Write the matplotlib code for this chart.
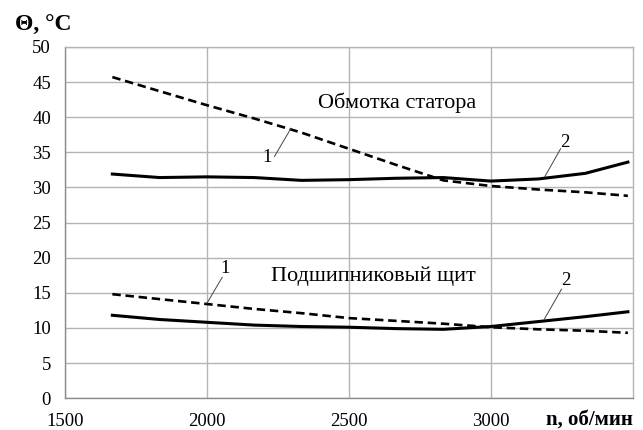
import matplotlib
matplotlib.use("Agg")
import matplotlib.pyplot as plt

# Data
n_rpm = [1667, 1833, 2000, 2167, 2333, 2500, 2667, 2833, 3000, 3167, 3333, 3483]
stator_1 = [45.7, 43.7, 41.7, 39.8, 37.8, 35.5, 33.2, 31.0, 30.2, 29.7, 29.3, 28.8]
stator_2 = [31.9, 31.4, 31.5, 31.4, 31.0, 31.1, 31.3, 31.4, 30.9, 31.2, 32.0, 33.6]
shield_1 = [14.8, 14.1, 13.4, 12.7, 12.1, 11.4, 11.0, 10.6, 10.1, 9.8, 9.6, 9.3]
shield_2 = [11.8, 11.2, 10.8, 10.4, 10.2, 10.1, 9.9, 9.8, 10.2, 10.9, 11.6, 12.3]

x_ticks = [1500, 2000, 2500, 3000]
y_ticks = [0, 5, 10, 15, 20, 25, 30, 35, 40, 45, 50]

plt.rcParams['font.family'] = ['Liberation Serif', 'DejaVu Serif']

fig = plt.figure(figsize=(6.43, 4.30), dpi=100)
ax = fig.add_axes([0.101, 0.074, 0.883, 0.817])

grid_c = '#b4b4b4'
ax.set_xlim(1500, 3500)
ax.set_ylim(0, 50)
ax.set_xticks(x_ticks)
ax.set_yticks(y_ticks)
ax.grid(True, color=grid_c, linewidth=1.0)
ax.set_axisbelow(True)
for s in ax.spines.values():
    s.set_color(grid_c)
    s.set_linewidth(1.0)
ax.spines['left'].set_color('#8c8c8c')
ax.spines['bottom'].set_color('#8c8c8c')
ax.tick_params(length=0, labelsize=13.5, pad=11)
ax.tick_params(axis='y', pad=10)

ax.plot(n_rpm, stator_1, color='black', linewidth=1.9, linestyle=(0, (3.2, 1.8)))
ax.plot(n_rpm, stator_2, color='black', linewidth=2.2, linestyle='-')
ax.plot(n_rpm, shield_1, color='black', linewidth=1.9, linestyle=(0, (3.2, 1.8)))
ax.plot(n_rpm, shield_2, color='black', linewidth=2.2, linestyle='-')

ax.text(2390, 42.0, 'Обмотка статора', fontsize=16, va='center', ha='left')
ax.text(2225, 17.4, 'Подшипниковый щит', fontsize=16, va='center', ha='left')

def lbl(text, tx, ty, x0, y0, x1, y1):
    ax.plot([x0, x1], [y0, y1], color='#444444', linewidth=0.7)
    ax.text(tx, ty, text, fontsize=13.5, ha='center', va='center')

lbl('1', 2213, 34.3, 2238, 34.4, 2296, 38.4)
lbl('2', 3262, 36.4, 3246, 35.5, 3190, 31.5)
lbl('1', 2063, 18.5, 2054, 17.2, 2000, 13.5)
lbl('2', 3266, 16.7, 3249, 15.5, 3188, 11.2)

fig.text(0.023, 0.94, 'Θ, °C', fontsize=17, fontweight='bold', ha='left', va='center')
fig.text(0.985, 0.024, 'n, об/мин', fontsize=15, fontweight='bold', ha='right', va='center')

fig.savefig('out.png', dpi=100)
